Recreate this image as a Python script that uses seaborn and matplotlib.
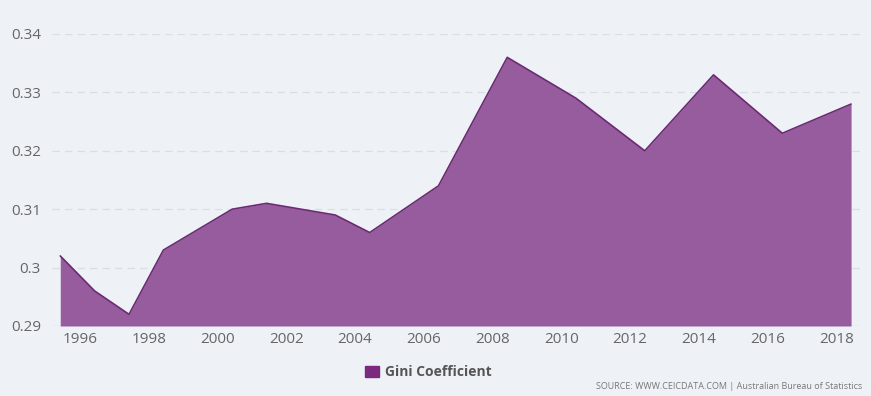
import matplotlib.pyplot as plt
import seaborn as sns
import pandas as pd
from matplotlib.patches import Patch

# survey years (fiscal year ending mid-year) and Gini coefficient
years = [1995, 1996, 1997, 1998, 2000, 2001, 2003, 2004, 2006, 2008, 2010, 2012, 2014, 2016, 2018]
gini = [0.302, 0.296, 0.292, 0.303, 0.310, 0.311, 0.309, 0.306, 0.314, 0.336, 0.329, 0.320, 0.333, 0.323, 0.328]
tick_years = [1996, 1998, 2000, 2002, 2004, 2006, 2008, 2010, 2012, 2014, 2016, 2018]
y_ticks = [0.29, 0.30, 0.31, 0.32, 0.33, 0.34]
y_labels = ["0.29", "0.3", "0.31", "0.32", "0.33", "0.34"]

bg = "#eef2f7"
sns.set_style("white")
plt.rcParams["font.family"] = ["Open Sans", "DejaVu Sans"]

df = pd.DataFrame({"x": [y + 0.43 for y in years], "gini": gini})

fig = plt.figure(figsize=(8.71, 3.96), dpi=100, facecolor=bg)
ax = fig.add_axes([0.0597, 0.1768, 0.9273, 0.7374])
ax.set_facecolor(bg)

ax.fill_between(df["x"], 0.29, df["gini"], color="#965c9e", linewidth=0, zorder=2)
sns.lineplot(data=df, x="x", y="gini", ax=ax, color="#6b2a72", linewidth=1.2, zorder=3)

ax.set_xlim(1995.19, 2018.68)
ax.set_ylim(0.29, 0.34)
ax.set_yticks(y_ticks)
ax.set_yticklabels(y_labels)
ax.set_xticks(tick_years)
ax.set_xticklabels([str(y) for y in tick_years])
ax.tick_params(axis="both", length=0, labelsize=11, colors="#666666")
ax.tick_params(axis="y", pad=8)
ax.tick_params(axis="x", pad=4)
for y in y_ticks[1:]:
    ax.axhline(y, color="#d8dee6", linewidth=0.9, linestyle=(0, (6, 4)), zorder=1)
ax.axhline(0.29, color="#ccd6eb", linewidth=1, zorder=1)
for s in ax.spines.values():
    s.set_visible(False)
ax.set_xlabel("")
ax.set_ylabel("")

fig.legend(handles=[Patch(color="#7b2a80", label="Gini Coefficient")],
           loc="center", bbox_to_anchor=(0.492, 0.06), frameon=False,
           prop={"size": 10, "weight": "bold"}, labelcolor="#555555",
           handlelength=1.0, handleheight=0.8, handletextpad=0.4)
fig.text(0.99, 0.025, "SOURCE: WWW.CEICDATA.COM | Australian Bureau of Statistics",
         ha="right", va="center", fontsize=6.5, color="#777777")

fig.savefig("out.png", dpi=100, facecolor=bg)
